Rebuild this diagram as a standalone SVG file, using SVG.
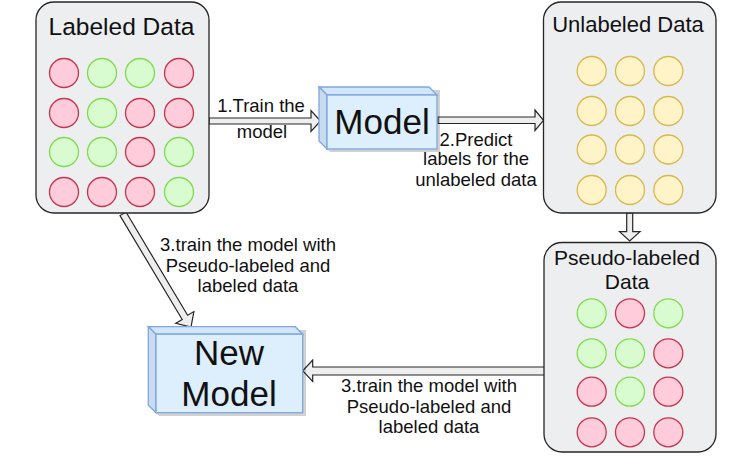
<svg xmlns="http://www.w3.org/2000/svg" width="753" height="468" viewBox="0 0 753 468">
<style>
.box{fill:#eceef0;stroke:#262626;stroke-width:1.3}
.r{fill:#ffccdc;stroke:#c8344c;stroke-width:1.3}
.g{fill:#d9fbd0;stroke:#80dc4e;stroke-width:1.3}
.y{fill:#fff3c8;stroke:#d8b850;stroke-width:1.3}
.title{font-family:"Liberation Sans",Arial,sans-serif;fill:#111;text-anchor:middle}
.lbl{font-family:"Liberation Sans",Arial,sans-serif;font-size:18.5px;fill:#111;text-anchor:middle}
.arrow{fill:#eeeeee;stroke:#262626;stroke-width:1.2;stroke-linejoin:miter}
.cf{fill:#ddeefc;stroke:#7ea6e0;stroke-width:1.3}
.cs{fill:#c9dbef;stroke:#7ea6e0;stroke-width:1.3}
.ct{fill:#d3e5f8;stroke:#7ea6e0;stroke-width:1.3}
.sh{fill:#000;opacity:0.18}
.big{font-family:"Liberation Sans",Arial,sans-serif;font-size:35px;fill:#111;text-anchor:middle}
</style>
<rect width="753" height="468" fill="#ffffff"/>

<g id="connectors">
<polygon class="arrow" points="209,118 311,118 311,110.5 320.5,121 311,131.5 311,124 209,124"/>
<polygon class="arrow" points="438,117 535,117 535,110 543.5,120.3 535,130.5 535,123.5 438,123.5"/>
<polygon class="arrow" points="626.7,213 626.7,231.7 619.5,231.7 629.7,241 640,231.7 632.7,231.7 632.7,213"/>
<polygon class="arrow" points="545,367 312.7,367 312.7,360 302.7,370.8 312.7,381.5 312.7,375 545,375"/>
<polygon class="arrow" points="120,215.6 182.2,319.5 175.8,323.3 191,327 193.9,311.6 187.6,315.3 126,212"/>
<text class="lbl" x="261" y="112">1.Train the</text>
<text class="lbl" x="262" y="138">model</text>
<text class="lbl" x="476" y="146">2.Predict</text>
<text class="lbl" x="476" y="165">labels for the</text>
<text class="lbl" x="476" y="186">unlabeled data</text>
<text class="lbl" x="248" y="251">3.train the model with</text>
<text class="lbl" x="248" y="272">Pseudo-labeled and</text>
<text class="lbl" x="248" y="292">labeled data</text>
<text class="lbl" x="429" y="392">3.train the model with</text>
<text class="lbl" x="429" y="413">Pseudo-labeled and</text>
<text class="lbl" x="429" y="433">labeled data</text>
</g>

<g id="labeled-data">
<rect class="box" x="36" y="2" width="173" height="211" rx="18"/>
<text class="title" x="121.5" y="35" font-size="24.5">Labeled Data</text>
<circle class="r" cx="64" cy="73" r="14.5"/><circle class="g" cx="102" cy="73" r="14.5"/><circle class="g" cx="140" cy="73" r="14.5"/><circle class="r" cx="179" cy="73" r="14.5"/>
<circle class="r" cx="64" cy="113" r="14.5"/><circle class="g" cx="102" cy="113" r="14.5"/><circle class="r" cx="140" cy="113" r="14.5"/><circle class="r" cx="179" cy="113" r="14.5"/>
<circle class="g" cx="64" cy="152" r="14.5"/><circle class="g" cx="102" cy="152" r="14.5"/><circle class="r" cx="140" cy="152" r="14.5"/><circle class="g" cx="179" cy="152" r="14.5"/>
<circle class="r" cx="64" cy="192" r="14.5"/><circle class="r" cx="102" cy="192" r="14.5"/><circle class="r" cx="140" cy="192" r="14.5"/><circle class="g" cx="179" cy="192" r="14.5"/>
</g>

<g id="model">
<polygon class="sh" points="322,90 440,90 440,152 330,152 322,144"/>
<polygon class="ct" points="319,87 429,87 437,95 327,95"/>
<polygon class="cs" points="319,87 327,95 327,149 319,141"/>
<rect class="cf" x="327" y="95" width="110" height="54"/>
<text class="big" x="382" y="134">Model</text>
</g>

<g id="unlabeled-data">
<rect class="box" x="543.5" y="2" width="172.5" height="211" rx="18"/>
<text class="title" x="628" y="32" font-size="22">Unlabeled Data</text>
<circle class="y" cx="591.7" cy="71" r="14.5"/><circle class="y" cx="630" cy="71" r="14.5"/><circle class="y" cx="668.3" cy="71" r="14.5"/>
<circle class="y" cx="591.7" cy="111" r="14.5"/><circle class="y" cx="630" cy="111" r="14.5"/><circle class="y" cx="668.3" cy="111" r="14.5"/>
<circle class="y" cx="591.7" cy="149.5" r="14.5"/><circle class="y" cx="630" cy="149.5" r="14.5"/><circle class="y" cx="668.3" cy="149.5" r="14.5"/>
<circle class="y" cx="591.7" cy="190" r="14.5"/><circle class="y" cx="630" cy="190" r="14.5"/><circle class="y" cx="668.3" cy="190" r="14.5"/>
</g>

<g id="pseudo-labeled-data">
<rect class="box" x="544" y="242.5" width="172" height="209.5" rx="18"/>
<text class="title" x="627" y="265" font-size="21">Pseudo-labeled</text>
<text class="title" x="627" y="289" font-size="21">Data</text>
<circle class="g" cx="591.7" cy="313.3" r="14.5"/><circle class="r" cx="630" cy="313.3" r="14.5"/><circle class="g" cx="668.3" cy="313.3" r="14.5"/>
<circle class="g" cx="591.7" cy="353.3" r="14.5"/><circle class="g" cx="630" cy="353.3" r="14.5"/><circle class="r" cx="668.3" cy="353.3" r="14.5"/>
<circle class="r" cx="591.7" cy="391.7" r="14.5"/><circle class="g" cx="630" cy="391.7" r="14.5"/><circle class="r" cx="668.3" cy="391.7" r="14.5"/>
<circle class="r" cx="591.7" cy="432.3" r="14.5"/><circle class="r" cx="630" cy="432.3" r="14.5"/><circle class="r" cx="668.3" cy="432.3" r="14.5"/>
</g>

<g id="new-model">
<polygon class="sh" points="151,330 306,330 306,416 159,416 151,408"/>
<polygon class="ct" points="148.3,326.7 295.2,326.7 302.7,334.2 156,334.2"/>
<polygon class="cs" points="148.3,326.7 156,334.2 156,412.7 148.3,405.2"/>
<rect class="cf" x="156" y="334.2" width="146.7" height="78.5"/>
<text class="big" x="229" y="365">New</text>
<text class="big" x="229" y="406">Model</text>
</g>
</svg>
